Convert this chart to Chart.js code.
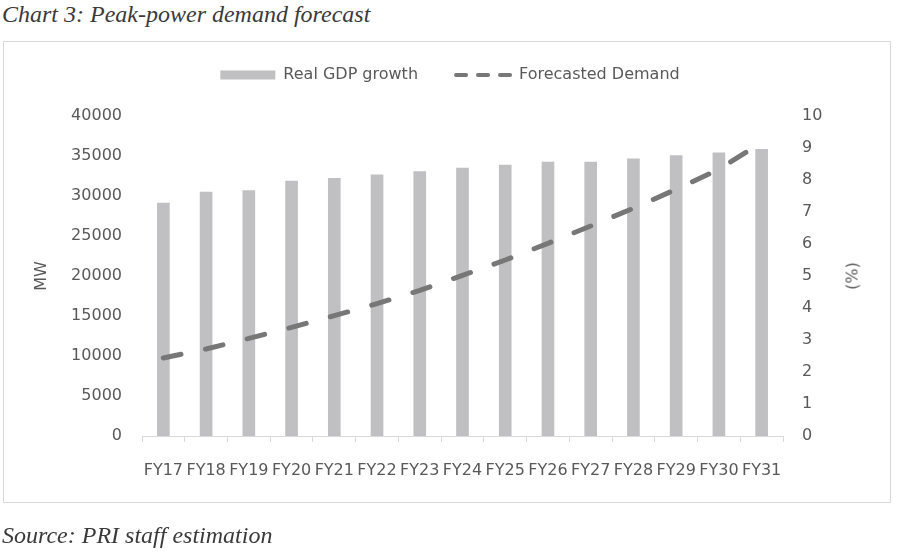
<!DOCTYPE html>
<html>
<head>
<meta charset="utf-8">
<script src="https://cdn.jsdelivr.net/npm/chart.js@4.4.1/dist/chart.umd.min.js"></script>
<style>
  body { margin: 0; background: #fff; }
  #wrap { position: relative; width: 900px; height: 552px; overflow: hidden; }
  #frame { position: absolute; left: 3px; top: 41px; width: 888px; height: 462px;
           border: 1.5px solid #d9d9d9; box-sizing: border-box; }
  canvas { position: absolute; left: 0; top: 0; }
  .cap { position: absolute; left: 2px; font: italic 24px "Liberation Serif", serif; color: #3a3a3a; white-space: nowrap; }
  #pct { position: absolute; left: 852px; top: 276px; transform: translate(-50%, -50%) rotate(-90deg);
         font: 16px "DejaVu Sans", sans-serif; color: #595959; }
</style>
</head>
<body>
<div id="wrap">
  <div class="cap" style="top:1px">Chart 3: Peak-power demand forecast</div>
  <div id="frame"></div>
  <canvas id="myChart" width="900" height="552"></canvas>
  <div id="pct">(%)</div>
  <div class="cap" style="top:522px">Source: PRI staff estimation</div>
</div>
<script>
var years = ['FY17', 'FY18', 'FY19', 'FY20', 'FY21', 'FY22', 'FY23', 'FY24', 'FY25', 'FY26', 'FY27', 'FY28', 'FY29', 'FY30', 'FY31'];
// bars, right axis (%)
var gdpGrowth = [7.28, 7.62, 7.67, 7.97, 8.05, 8.16, 8.26, 8.37, 8.47, 8.56, 8.56, 8.66, 8.76, 8.85, 8.96];
// dashed line, left axis (MW)
var demand = [9750, 10880, 12200, 13580, 15040, 16540, 18200, 20080, 22000, 24080, 26250, 28460, 30840, 33330, 36700];

var grey = '#595959';
var tickFont = { family: 'DejaVu Sans', size: 16 };

// push the plot area down below the legend
var legendGap = {
  id: 'legendGap',
  beforeLayout: function (chart) {
    var lg = chart.legend;
    if (lg && !lg._gapDone) {
      var fit = lg.fit;
      lg.fit = function () { fit.call(this); this.height = 87; };
      lg._gapDone = true;
    }
  }
};

var ctx = document.getElementById('myChart').getContext('2d');
var chart = new Chart(ctx, {
  type: 'bar',
  data: {
    labels: years,
    datasets: [{
      label: 'Real GDP growth',
      data: gdpGrowth,
      yAxisID: 'y1',
      backgroundColor: '#c0c0c2',
      borderWidth: 0,
      barThickness: 12,
      pointStyle: 'rect',
      order: 2
    }, {
      type: 'line',
      label: 'Forecasted Demand',
      data: demand,
      yAxisID: 'y',
      borderColor: '#777777',
      backgroundColor: '#777777',
      borderWidth: 5,
      borderDash: [18, 25],
      borderCapStyle: 'round',
      pointRadius: 0,
      pointStyle: 'line',
      tension: 0,
      order: 1
    }]
  },
  options: {
    responsive: false,
    animation: false,
    layout: { padding: { top: 29, left: 0, right: 0, bottom: 0 } },
    plugins: {
      title: { display: false },
      tooltip: { enabled: false },
      legend: {
        display: true,
        position: 'top',
        labels: {
          usePointStyle: true,
          pointStyleWidth: 55,
          boxWidth: 55,
          boxHeight: 9,
          padding: 38,
          color: grey,
          font: tickFont,
          sort: function (a, b) { return a.datasetIndex - b.datasetIndex; },
          generateLabels: function (c) {
            var items = Chart.defaults.plugins.legend.labels.generateLabels(c);
            items.forEach(function (it) {
              if (it.datasetIndex === 1) {
                it.lineDash = [10, 12];
                it.lineWidth = 4;
                it.lineCap = 'round';
              }
            });
            return items;
          }
        }
      }
    },
    scales: {
      x: {
        grid: { display: true, drawOnChartArea: false, drawTicks: true, tickLength: 6, color: '#d9d9d9' },
        border: { display: true, color: '#d9d9d9' },
        ticks: { color: grey, font: tickFont, padding: 19, autoSkip: false, maxRotation: 0, minRotation: 0 },
        afterFit: function (s) { s.height = 116; }
      },
      y: {
        position: 'left',
        min: 0, max: 40000,
        grid: { display: false, drawTicks: false },
        border: { display: false },
        ticks: { stepSize: 5000, color: grey, font: tickFont, padding: 20,
                 callback: function (v) { return String(v); } },
        title: { display: true, text: 'MW', color: grey, font: tickFont, padding: { top: 32, bottom: 0 } },
        afterFit: function (s) { s.width = 142; }
      },
      y1: {
        position: 'right',
        min: 0, max: 10,
        grid: { display: false, drawTicks: false },
        border: { display: false },
        ticks: { stepSize: 1, color: grey, font: tickFont, padding: 19,
                 callback: function (v) { return String(v); } },
        afterFit: function (s) { s.width = 117; }
      }
    }
  },
  plugins: [legendGap]
});
</script>
</body>
</html>
